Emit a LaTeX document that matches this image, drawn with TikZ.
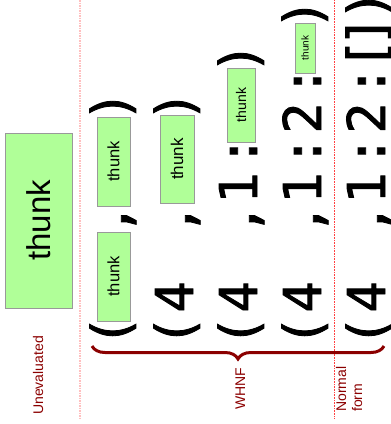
\documentclass[tikz,border=0pt]{standalone}
\usepackage{fontspec}
\setmainfont{Liberation Sans}
\newfontfamily\monobig[FakeBold=1.6]{DejaVu Sans Mono}
\usetikzlibrary{positioning, decorations.pathreplacing}
\definecolor{thunkgreen}{HTML}{B0FF98}
\definecolor{labelred}{HTML}{8B0000}

\begin{document}
\begin{tikzpicture}[
  x=1pt, y=-1pt,
  glyph/.style={font=\monobig\fontsize{52}{60}\selectfont, rotate=90,
                anchor=base, inner sep=0pt},
  thunkbox/.style={draw=black!40, fill=thunkgreen, rotate=90,
                   inner sep=0pt, line width=0.8pt},
  lbl/.style={font=\fontsize{14}{16}\selectfont, text=labelred, rotate=90,
              anchor=base west, inner sep=0pt, align=left},
  sep/.style={densely dotted}
]
\useasboundingbox (0,0) rectangle (391,424);

% separators
\coordinate (sepAtop) at (80,0);
\coordinate (sepAbot) at (80,419);
\coordinate (sepBtop) at (334,0);
\coordinate (sepBbot) at (334,419);
\draw[sep, draw=red!25, line width=1.5pt] (sepAtop) -- (sepAbot);
\draw[sep, draw=red!75, line width=0.6pt] (sepBtop) -- (sepBbot);

% unevaluated
\node[thunkbox, minimum width=175pt, minimum height=67pt,
      font=\fontsize{33}{36}\selectfont] (big) at (38.5,220.5) {thunk};

% tuples
\foreach \col/\bx in {1/129, 2/193, 3/257, 4/321, 5/385} {
  \node[glyph] (open\col) at (\bx,331) {(};
  \node[glyph] (comma\col) at (\bx,219) {,};
}
\foreach \col/\bx in {2/193, 3/257, 4/321, 5/385}
  \node[glyph] (four\col) at (\bx,297) {4};
\foreach \col/\bx in {3/257, 4/321, 5/385} {
  \node[glyph] (one\col) at (\bx,188) {1};
  \node[glyph] (colA\col) at (\bx,151) {:};
}
\foreach \col/\bx in {4/321, 5/385} {
  \node[glyph] (two\col) at (\bx,118) {2};
  \node[glyph] (colB\col) at (\bx,81) {:};
}
\node[glyph] (nilL) at (385,54) {[};
\node[glyph] (nilR) at (385,31) {]};

\node[thunkbox, minimum width=89pt, minimum height=33pt,
      font=\fontsize{16.5}{18}\selectfont] (fstA) at (113.5,276.5) {thunk};
\node[thunkbox, minimum width=89pt, minimum height=33pt,
      font=\fontsize{16.5}{18}\selectfont] (sndA) at (113.5,161.5) {thunk};
\node[thunkbox, minimum width=88pt, minimum height=34pt,
      font=\fontsize{17}{19}\selectfont] (sndB) at (177,159) {thunk};
\node[thunkbox, minimum width=74pt, minimum height=28pt,
      font=\fontsize{14}{16}\selectfont] (tlC) at (241,105) {thunk};
\node[thunkbox, minimum width=50pt, minimum height=20pt,
      font=\fontsize{10}{12}\selectfont] (tlD) at (305,48) {thunk};

\node[glyph] (close1) at (129,106) {)};
\node[glyph] (close2) at (193,106) {)};
\node[glyph] (close3) at (257,58) {)};
\node[glyph] (close4) at (321,14) {)};
\node[glyph] (close5) at (385,5) {)};

% brace and labels
\coordinate (brL) at (92,346);
\coordinate (brR) at (384,346);
\draw[labelred, line width=3pt, decorate,
      decoration={brace, mirror, amplitude=13pt}] (brL) -- (brR);

\node[lbl] (uneval) at (43,415) {Unevaluated};
\node[lbl] (whnf) at (245,410) {WHNF};
\node[lbl] (normal) at (362,412) {Normal\\form};
\end{tikzpicture}
\end{document}
